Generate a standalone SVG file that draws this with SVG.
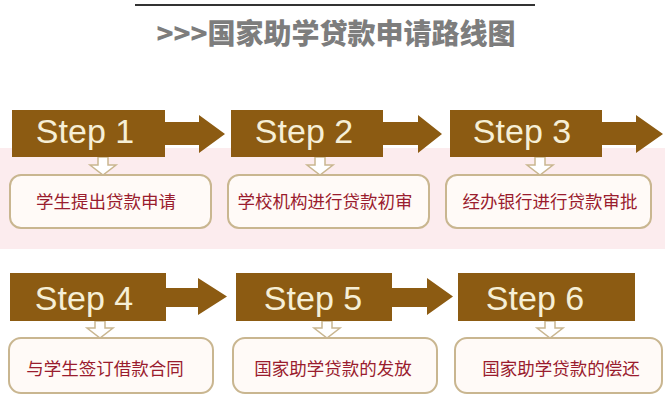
<svg xmlns="http://www.w3.org/2000/svg" width="665" height="400" viewBox="0 0 665 400">
<style>
.step{fill:#8c5b12}
.stxt{font-family:"Liberation Sans",Arial,sans-serif;font-size:34px;fill:#f6efd6;text-anchor:middle}
.box{fill:#fffaf7;stroke:#c9b690;stroke-width:2}
.btxt{font-family:"Noto Sans CJK SC",sans-serif;font-size:17.5px;fill:#9a1c2e;text-anchor:middle}
.harrow{fill:#8c5b12}
.darrow{fill:#ffffff;stroke:#c9b690;stroke-width:1.5}
.title{font-family:"Noto Sans CJK SC",sans-serif;font-weight:900;font-size:28px;fill:#7d7d7d;text-anchor:middle}
</style>
<rect x="0" y="0" width="665" height="400" fill="#ffffff"/>
<rect x="0" y="148" width="665" height="101" fill="#fcecee"/>
<g id="title">
<line x1="135" y1="5" x2="535" y2="5" stroke="#333333" stroke-width="2"/>
<text class="title" x="336" y="44">&gt;&gt;&gt;国家助学贷款申请路线图</text>
</g>
<g id="connectors">
<polygon class="harrow" points="164,122 199,122 199,115 225,134 199,153 199,145 164,145"/>
<polygon class="harrow" points="382,122 418,122 418,115 442,134 418,153 418,145 382,145"/>
<polygon class="harrow" points="601,122 636,122 636,115 663,134 636,153 636,145 601,145"/>
<polygon class="harrow" points="165,288 198,288 198,278 227,296.5 198,315 198,307 165,307"/>
<polygon class="harrow" points="391,288 427,288 427,278 453,296.5 427,315 427,307 391,307"/>
<polygon class="darrow" points="98,157 108,157 108,165 116,165 103,175 90,165 98,165"/>
<polygon class="darrow" points="315,157 325,157 325,165 333,165 320,175 307,165 315,165"/>
<polygon class="darrow" points="535,157 545,157 545,165 553,165 540,175 527,165 535,165"/>
<polygon class="darrow" points="95,321 105,321 105,328 113,328 100,338 87,328 95,328"/>
<polygon class="darrow" points="322,321 332,321 332,328 340,328 327,338 314,328 322,328"/>
<polygon class="darrow" points="545,321 555,321 555,328 563,328 550,338 537,328 545,328"/>
</g>
<g id="step1"><rect class="step" x="12" y="110" width="153" height="47"/><text class="stxt" x="85" y="143">Step 1</text></g>
<g id="step2"><rect class="step" x="231" y="110" width="152" height="47"/><text class="stxt" x="304" y="143">Step 2</text></g>
<g id="step3"><rect class="step" x="450" y="110" width="152" height="47"/><text class="stxt" x="522" y="143">Step 3</text></g>
<g id="step4"><rect class="step" x="10" y="273" width="156" height="48"/><text class="stxt" x="84" y="310">Step 4</text></g>
<g id="step5"><rect class="step" x="236" y="273" width="156" height="48"/><text class="stxt" x="313" y="310">Step 5</text></g>
<g id="step6"><rect class="step" x="458" y="273" width="177" height="48"/><text class="stxt" x="535" y="310">Step 6</text></g>
<g id="task1"><rect class="box" x="10" y="175" width="201" height="53" rx="11"/><text class="btxt" x="106" y="208">学生提出贷款申请</text></g>
<g id="task2"><rect class="box" x="228" y="175" width="201" height="53" rx="11"/><text class="btxt" x="325" y="208">学校机构进行贷款初审</text></g>
<g id="task3"><rect class="box" x="446" y="175" width="205" height="53" rx="11"/><text class="btxt" x="550" y="208">经办银行进行贷款审批</text></g>
<g id="task4"><rect class="box" x="9" y="338" width="204" height="55" rx="12"/><text class="btxt" x="105" y="375">与学生签订借款合同</text></g>
<g id="task5"><rect class="box" x="233" y="338" width="204" height="55" rx="12"/><text class="btxt" x="333" y="375">国家助学贷款的发放</text></g>
<g id="task6"><rect class="box" x="455" y="338" width="207" height="55" rx="12"/><text class="btxt" x="561" y="375">国家助学贷款的偿还</text></g>
</svg>
